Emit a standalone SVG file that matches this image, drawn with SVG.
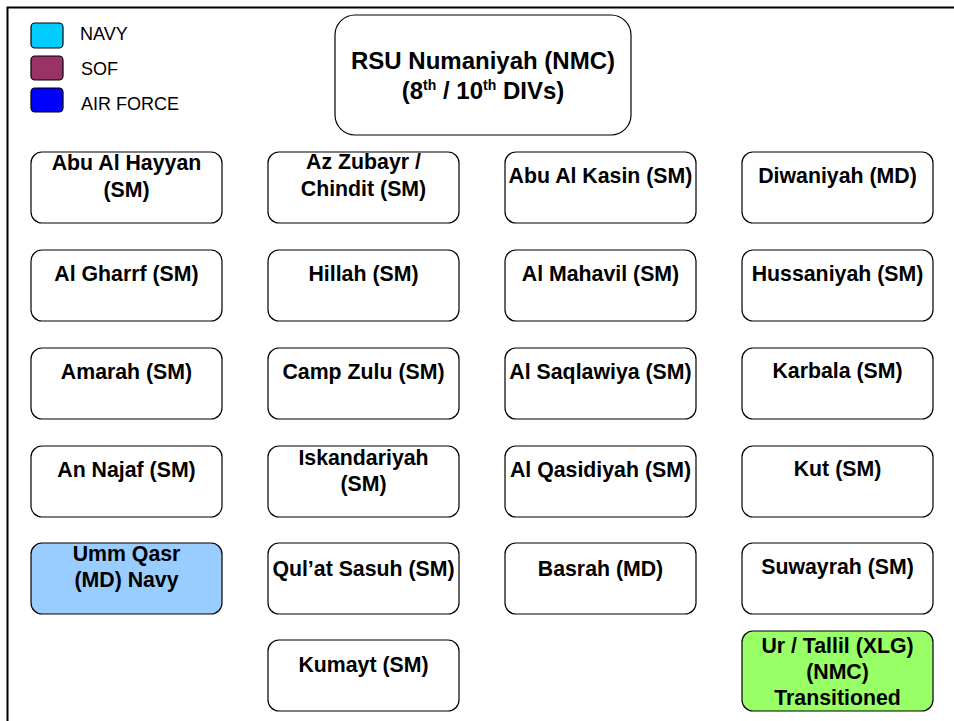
<svg xmlns="http://www.w3.org/2000/svg" width="954" height="721" viewBox="0 0 954 721">
<style>
.box{fill:#fff;stroke:#000;stroke-width:1.2}
.t{font-family:"Liberation Sans",Arial,sans-serif;font-weight:bold;font-size:21.3px;fill:#000;text-anchor:middle}
.title{font-family:"Liberation Sans",Arial,sans-serif;font-weight:bold;font-size:24px;fill:#000;text-anchor:middle}
.leg{font-family:"Liberation Sans",Arial,sans-serif;font-size:18px;fill:#000}
.sw{stroke:#000;stroke-width:1.2}
</style>
<rect width="954" height="721" fill="#fff"/>
<g id="frame" fill="none" stroke="#000" stroke-width="2">
<path d="M7.5 721 V7.5 H954"/>
</g>
<g id="legend">
<rect class="sw" x="31" y="23" width="32" height="25" rx="4" fill="#00CCFF"/>
<text class="leg" x="80" y="40">NAVY</text>
<rect class="sw" x="31" y="56" width="32" height="24" rx="4" fill="#993366"/>
<text class="leg" x="81" y="75">SOF</text>
<rect class="sw" x="31" y="88" width="32" height="24" rx="4" fill="#0000FF"/>
<text class="leg" x="81" y="110">AIR FORCE</text>
</g>
<g id="connectors"></g>
<g id="rsu">
<rect class="box" x="335" y="15" width="296" height="120" rx="20"/>
<text class="title" x="483" y="69">RSU Numaniyah (NMC)</text>
<text class="title" x="483" y="99">(8<tspan font-size="14" dy="-9">th</tspan><tspan dy="9"> / 10</tspan><tspan font-size="14" dy="-9">th</tspan><tspan dy="9"> DIVs)</tspan></text>
</g>
<g id="abu-al-hayyan"><rect class="box" x="31" y="152" width="191" height="71" rx="11"/><text class="t" x="126.5" y="170">Abu Al Hayyan</text><text class="t" x="126.5" y="197">(SM)</text></g>
<g id="az-zubayr"><rect class="box" x="268" y="152" width="191" height="71" rx="11"/><text class="t" x="363.5" y="169">Az Zubayr /</text><text class="t" x="363.5" y="196">Chindit (SM)</text></g>
<g id="abu-al-kasin"><rect class="box" x="505" y="152" width="191" height="71" rx="11"/><text class="t" x="600.5" y="183">Abu Al Kasin (SM)</text></g>
<g id="diwaniyah"><rect class="box" x="742" y="152" width="191" height="71" rx="11"/><text class="t" x="837.5" y="183">Diwaniyah (MD)</text></g>

<g id="al-gharrf"><rect class="box" x="31" y="250" width="191" height="71" rx="11"/><text class="t" x="126.5" y="281">Al Gharrf (SM)</text></g>
<g id="hillah"><rect class="box" x="268" y="250" width="191" height="71" rx="11"/><text class="t" x="363.5" y="281">Hillah (SM)</text></g>
<g id="al-mahavil"><rect class="box" x="505" y="250" width="191" height="71" rx="11"/><text class="t" x="600.5" y="281">Al Mahavil (SM)</text></g>
<g id="hussaniyah"><rect class="box" x="742" y="250" width="191" height="71" rx="11"/><text class="t" x="837.5" y="281">Hussaniyah (SM)</text></g>

<g id="amarah"><rect class="box" x="31" y="348" width="191" height="71" rx="11"/><text class="t" x="126.5" y="379">Amarah (SM)</text></g>
<g id="camp-zulu"><rect class="box" x="268" y="348" width="191" height="71" rx="11"/><text class="t" x="363.5" y="379">Camp Zulu (SM)</text></g>
<g id="al-saqlawiya"><rect class="box" x="505" y="348" width="191" height="71" rx="11"/><text class="t" x="600.5" y="379">Al Saqlawiya (SM)</text></g>
<g id="karbala"><rect class="box" x="742" y="348" width="191" height="71" rx="11"/><text class="t" x="837.5" y="378">Karbala (SM)</text></g>

<g id="an-najaf"><rect class="box" x="31" y="446" width="191" height="71" rx="11"/><text class="t" x="126.5" y="477">An Najaf (SM)</text></g>
<g id="iskandariyah"><rect class="box" x="268" y="446" width="191" height="71" rx="11"/><text class="t" x="363.5" y="465">Iskandariyah</text><text class="t" x="363.5" y="491">(SM)</text></g>
<g id="al-qasidiyah"><rect class="box" x="505" y="446" width="191" height="71" rx="11"/><text class="t" x="600.5" y="477">Al Qasidiyah (SM)</text></g>
<g id="kut"><rect class="box" x="742" y="446" width="191" height="71" rx="11"/><text class="t" x="837.5" y="476">Kut (SM)</text></g>

<g id="umm-qasr"><rect class="box" x="31" y="543" width="191" height="71" rx="11" style="fill:#99CCFF"/><text class="t" x="126.5" y="561">Umm Qasr</text><text class="t" x="126.5" y="587">(MD) Navy</text></g>
<g id="qulat-sasuh"><rect class="box" x="268" y="543" width="191" height="71" rx="11"/><text class="t" x="363.5" y="576">Qul’at Sasuh (SM)</text></g>
<g id="basrah"><rect class="box" x="505" y="543" width="191" height="71" rx="11"/><text class="t" x="600.5" y="576">Basrah (MD)</text></g>
<g id="suwayrah"><rect class="box" x="742" y="543" width="191" height="71" rx="11"/><text class="t" x="837.5" y="574">Suwayrah (SM)</text></g>

<g id="kumayt"><rect class="box" x="268" y="640" width="191" height="71" rx="11"/><text class="t" x="363.5" y="672">Kumayt (SM)</text></g>
<g id="ur-tallil"><rect class="box" x="742" y="631" width="191" height="80" rx="11" style="fill:#99FF66"/><text class="t" x="837.5" y="653">Ur / Tallil (XLG)</text><text class="t" x="837.5" y="679">(NMC)</text><text class="t" x="837.5" y="705">Transitioned</text></g>
</svg>
